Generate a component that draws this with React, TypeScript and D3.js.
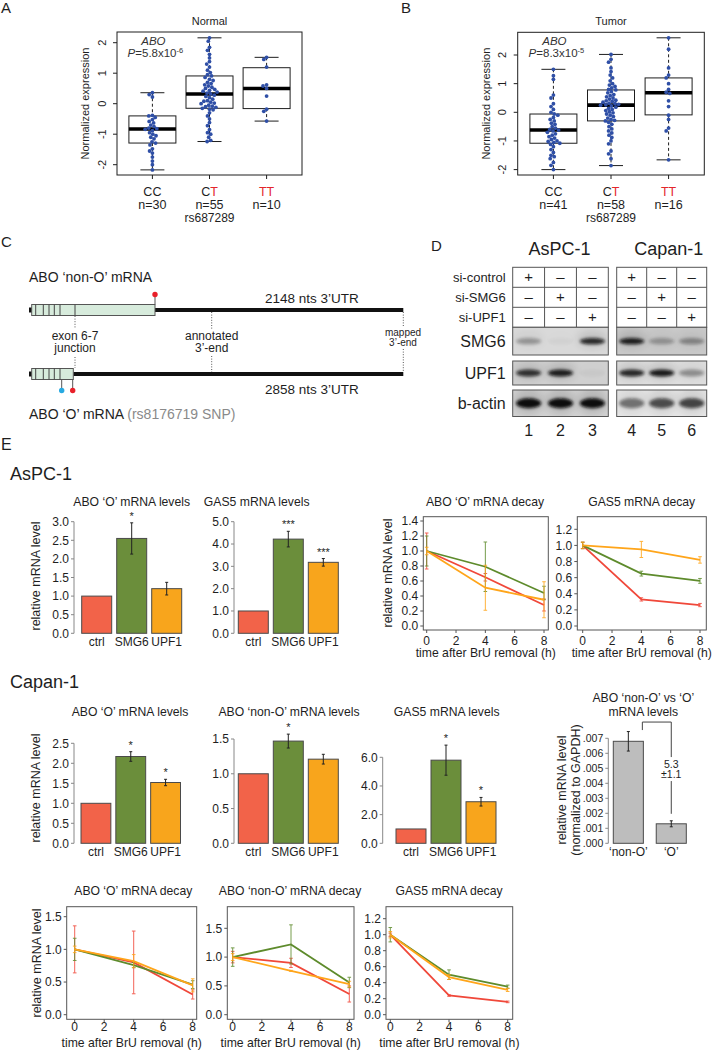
import React from 'react';
import * as d3 from 'd3';

const FONT = "'Liberation Sans', Arial, Helvetica, sans-serif";
const INK = '#1e1e1e';
const RED_T = '#e3262b';
const DOT = '#2f4fa6';

// ---------- A / B: ABO expression by rs687289 genotype ----------
const genotypes = ['CC', 'CT', 'TT'];
const exprTicks = [-2, -1, 0, 1, 2];

const normalCC = [0.36, 0.3, 0.22, -0.38, -0.4, -0.45, -0.52, -0.58, -0.63, -0.7, -0.75, -0.8, -0.82, -0.84, -0.88, -0.95, -1.0, -1.05, -1.1, -1.15, -1.25, -1.29, -1.35, -1.48, -1.55, -1.62, -1.75, -1.88, -2.0, -2.17];
const normalCT = [2.16, 2.05, 1.85, 1.75, 1.62, 1.5, 1.38, 1.3, 1.2, 1.1, 1.02, 0.95, 0.91, 0.86, 0.8, 0.76, 0.7, 0.66, 0.62, 0.58, 0.54, 0.5, 0.47, 0.44, 0.41, 0.38, 0.35, 0.32, 0.28, 0.24, 0.2, 0.15, 0.1, 0.08, 0.05, 0.02, 0.0, -0.05, -0.08, -0.1, -0.12, -0.15, -0.18, -0.2, -0.3, -0.4, -0.5, -0.62, -0.72, -0.85, -0.95, -1.0, -1.1, -1.2, -1.24];
const normalTT = [1.52, 1.45, 1.2, 0.62, 0.58, 0.5, 0.25, -0.18, -0.25, -0.57];
const normalN = [30, 55, 10];
const normalMed = [-0.83, 0.32, 0.5];
const normalQ1 = [-1.29, -0.15, -0.16];
const normalQ3 = [-0.4, 0.91, 1.18];
const normalLo = [-2.17, -1.24, -0.57];
const normalHi = [0.36, 2.16, 1.52];

const tumorCC = [1.5, 1.28, 1.15, 0.6, 0.5, 0.3, 0.2, 0.1, 0.0, -0.06, -0.1, -0.18, -0.25, -0.3, -0.38, -0.42, -0.5, -0.55, -0.6, -0.62, -0.65, -0.7, -0.75, -0.8, -0.85, -0.9, -0.95, -1.0, -1.02, -1.05, -1.08, -1.12, -1.2, -1.3, -1.4, -1.5, -1.55, -1.62, -1.75, -1.85, -2.0];
const tumorCT = [2.02, 1.85, 1.75, 1.55, 1.42, 1.3, 1.2, 1.1, 1.0, 0.95, 0.9, 0.85, 0.8, 0.78, 0.72, 0.68, 0.62, 0.58, 0.54, 0.5, 0.46, 0.42, 0.4, 0.38, 0.35, 0.32, 0.3, 0.28, 0.26, 0.25, 0.22, 0.18, 0.14, 0.1, 0.06, 0.02, -0.02, -0.06, -0.1, -0.15, -0.2, -0.25, -0.28, -0.3, -0.35, -0.42, -0.5, -0.58, -0.65, -0.72, -0.8, -0.88, -1.0, -1.1, -1.35, -1.45, -1.62, -1.86];
const tumorTT = [2.6, 2.2, 1.55, 1.3, 1.2, 1.0, 0.8, 0.7, 0.66, 0.4, 0.2, -0.1, -0.25, -0.55, -0.65, -1.66];
const tumorN = [41, 58, 16];
const tumorMed = [-0.62, 0.25, 0.68];
const tumorQ1 = [-1.08, -0.3, -0.09];
const tumorQ3 = [-0.06, 0.78, 1.2];
const tumorLo = [-2.0, -1.86, -1.66];
const tumorHi = [1.5, 2.02, 2.6];

// ---------- D: western blot ----------
const siLabels = ['si-control', 'si-SMG6', 'si-UPF1'];
const siControl = ['+', '–', '–', '+', '–', '–'];
const siSMG6 = ['–', '+', '–', '–', '+', '–'];
const siUPF1 = ['–', '–', '+', '–', '–', '+'];
const laneNums = ['1', '2', '3', '4', '5', '6'];
const smg6Band = [0.3, 0.03, 0.85, 0.9, 0.28, 0.35];
const upf1Band = [0.8, 0.9, 0.03, 0.85, 0.92, 0.35];
const actinBand = [1, 1, 1, 0.5, 0.68, 0.72];

// ---------- E: qPCR bars ----------
const siCats = ['ctrl', 'SMG6', 'UPF1'];
const aspcOMean = [1, 2.55, 1.2];
const aspcOErr = [0, 0.42, 0.17];
const aspcOStars = ['', '*', ''];
const aspcGasMean = [1, 4.22, 3.18];
const aspcGasErr = [0, 0.35, 0.17];
const aspcGasStars = ['', '***', '***'];
const capOMean = [1, 2.17, 1.52];
const capOErr = [0, 0.12, 0.08];
const capOStars = ['', '*', '*'];
const capNonOMean = [1, 1.47, 1.21];
const capNonOErr = [0, 0.1, 0.07];
const capNonOStars = ['', '*', ''];
const capGasMean = [1, 5.8, 2.9];
const capGasErr = [0, 1.05, 0.3];
const capGasStars = ['', '*', '*'];
const alleleCats = ['‘non-O’', '‘O’'];
const alleleMean = [0.0068, 0.0013];
const alleleErr = [0.00065, 0.0002];

// ---------- E: BrU decay ----------
const hours = [0, 4, 8];
const aspcODecay = { ctrl: [1, 0.65, 0.28], smg6: [1, 0.79, 0.44], upf1: [1, 0.51, 0.35] };
const aspcODecayErr = { ctrl: [0.24, 0.05, 0.08], smg6: [0.2, 0.33, 0.09], upf1: [0.05, 0.3, 0.24] };
const aspcGasDecay = { ctrl: [1, 0.33, 0.26], smg6: [1, 0.65, 0.56], upf1: [1, 0.95, 0.82] };
const aspcGasDecayErr = { ctrl: [0.04, 0.02, 0.02], smg6: [0.04, 0.03, 0.03], upf1: [0.04, 0.1, 0.04] };
const capODecay = { ctrl: [1, 0.8, 0.31], smg6: [1, 0.76, 0.46], upf1: [1, 0.82, 0.45] };
const capODecayErr = { ctrl: [0.36, 0.48, 0.07], smg6: [0.17, 0.04, 0.06], upf1: [0.05, 0.1, 0.1] };
const capNonODecay = { ctrl: [1, 0.9, 0.36], smg6: [1, 1.22, 0.56], upf1: [1, 0.76, 0.53] };
const capNonODecayErr = { ctrl: [0.1, 0.08, 0.14], smg6: [0.16, 0.34, 0.09], upf1: [0.06, 0.01, 0.05] };
const capGasDecay = { ctrl: [1, 0.24, 0.16], smg6: [1, 0.5, 0.35], upf1: [1, 0.47, 0.31] };
const capGasDecayErr = { ctrl: [0.02, 0.01, 0.01], smg6: [0.09, 0.06, 0.02], upf1: [0.04, 0.03, 0.02] };

const BAR_COLORS = ['#f26349', '#6b8e3b', '#f8a51c'];
const LINE_COLORS = { ctrl: '#f0483a', smg6: '#5e8b2c', upf1: '#ffa51a' };

const f1 = d3.format('.1f');
const f3 = (d: number) => d3.format('.3f')(d).replace(/^0/, '');

function swarm(values: number[], y: (v: number) => number, dist: number) {
  const pts = values.map(v => ({ py: y(v), dx: 0 })).sort((a, b) => a.py - b.py);
  const placed: { py: number; dx: number }[] = [];
  for (const p of pts) {
    for (let k = 0; k < 400; k++) {
      const off = (k % 2 === 0 ? 1 : -1) * Math.ceil(k / 2) * 0.4;
      if (placed.every(q => (q.dx - off) ** 2 + (q.py - p.py) ** 2 >= dist * dist)) { p.dx = off; break; }
    }
    placed.push(p);
  }
  return pts;
}

function BoxPanel(p: any) {
  const { left, right, top, bottom, yZero, yTwo, groups, n, med, q1, q3, lo, hi, title, pMain, pExp } = p;
  const x = d3.scaleLinear().domain([0.38, 3.62]).range([left, right]);
  const y = d3.scaleLinear().domain([0, 2]).range([yZero, yTwo]);
  const hw = 23.5, cw = 12;
  const cx0 = x(1);
  return (
    <g>
      <text x={(left + right) / 2} y={25} textAnchor="middle" fontSize={11}>{title}</text>
      {exprTicks.map(t => (
        <g key={t}>
          <line x1={left - 4} x2={left} y1={y(t)} y2={y(t)} stroke={INK} />
          <text transform={`translate(${left - 11.5},${y(t)}) rotate(-90)`} textAnchor="middle" fontSize={11}>{t}</text>
        </g>
      ))}
      <text transform={`translate(${left - 28},${(top + bottom) / 2}) rotate(-90)`} textAnchor="middle" fontSize={11}>Normalized expression</text>
      {genotypes.map((g, i) => {
        const cx = x(i + 1);
        return (
          <g key={g}>
            <line x1={cx} x2={cx} y1={y(hi[i])} y2={y(q3[i])} stroke={INK} strokeDasharray="3,2.5" />
            <line x1={cx} x2={cx} y1={y(q1[i])} y2={y(lo[i])} stroke={INK} strokeDasharray="3,2.5" />
            <line x1={cx - cw} x2={cx + cw} y1={y(hi[i])} y2={y(hi[i])} stroke={INK} />
            <line x1={cx - cw} x2={cx + cw} y1={y(lo[i])} y2={y(lo[i])} stroke={INK} />
            <rect x={cx - hw} y={y(q3[i])} width={2 * hw} height={y(q1[i]) - y(q3[i])} fill="#fff" stroke={INK} />
            <line x1={cx - hw} x2={cx + hw} y1={y(med[i])} y2={y(med[i])} stroke="#000" strokeWidth={3.6} />
            <line x1={cx} x2={cx} y1={bottom} y2={bottom + 4} stroke={INK} />
            {swarm(groups[i], y, 3.5).map((d, j) => (
              <circle key={j} cx={cx + d.dx} cy={d.py} r={1.9} fill={DOT} />
            ))}
            <text x={cx} y={196} textAnchor="middle" fontSize={12.5}>
              {g.split('').map((ch, j) => (
                <tspan key={j} fill={i > 0 && ch === 'T' ? RED_T : INK}>{ch}</tspan>
              ))}
            </text>
            <text x={cx} y={209} textAnchor="middle" fontSize={12.5}>n={n[i]}</text>
          </g>
        );
      })}
      <rect x={left} y={top} width={right - left} height={bottom - top} fill="none" stroke={INK} />
      <text x={x(2)} y={222} textAnchor="middle" fontSize={12}>rs687289</text>
      <text x={cx0 + 1} y={45} textAnchor="middle" fontSize={11.5} fontStyle="italic" fill="#333">ABO</text>
      <text x={cx0 + 3} y={57} textAnchor="middle" fontSize={11.5} fill="#333">
        <tspan fontStyle="italic">P</tspan>={pMain}<tspan dy={-4.5} fontSize={7.5}>{pExp}</tspan>
      </text>
    </g>
  );
}

function Transcript() {
  const exonLines = [35.7, 43.3, 49, 54.3, 60];
  const green = '#d7ebdc';
  const dot = { stroke: '#555', strokeDasharray: '1,1.6', strokeWidth: 1 };
  return (
    <g>
      <text x={29} y={282} fontSize={14}>ABO ‘non-O’ mRNA</text>
      {/* non-O */}
      <line x1={29} x2={32} y1={310} y2={310} stroke="#111" strokeWidth={5} />
      <line x1={155} x2={403.3} y1={310} y2={310} stroke="#111" strokeWidth={4} />
      <rect x={31.7} y={304.5} width={123.3} height={11} fill={green} stroke="#555" />
      {[...exonLines, 75].map(v => <line key={v} x1={v} x2={v} y1={304.5} y2={315.5} stroke="#444" />)}
      <line x1={155} x2={155} y1={304.5} y2={296} stroke="#555" />
      <circle cx={155} cy={294.5} r={2.7} fill="#e8202a" />
      <text x={265} y={303} fontSize={13.5}>2148 nts 3’UTR</text>
      {/* O */}
      <line x1={29} x2={32} y1={374} y2={374} stroke="#111" strokeWidth={5} />
      <line x1={73.3} x2={403.3} y1={374} y2={374} stroke="#111" strokeWidth={4} />
      <rect x={31.7} y={368.5} width={41.6} height={11} fill={green} stroke="#555" />
      {exonLines.map(v => <line key={v} x1={v} x2={v} y1={368.5} y2={379.5} stroke="#444" />)}
      <line x1={61.7} x2={61.7} y1={379.5} y2={388} stroke="#555" />
      <circle cx={61.7} cy={390.5} r={2.7} fill="#27a9e1" />
      <line x1={72.7} x2={72.7} y1={379.5} y2={388} stroke="#555" />
      <circle cx={72.7} cy={390.5} r={2.7} fill="#e8202a" />
      <text x={265} y={394} fontSize={13.5}>2858 nts 3’UTR</text>
      {/* guides */}
      <line x1={75} x2={75} y1={316} y2={329} {...dot} />
      <line x1={75} x2={75} y1={357} y2={368} {...dot} />
      <text x={75} y={340} textAnchor="middle" fontSize={12}>exon 6-7</text>
      <text x={75} y={352} textAnchor="middle" fontSize={12}>junction</text>
      <line x1={211.7} x2={211.7} y1={312} y2={330} {...dot} />
      <line x1={211.7} x2={211.7} y1={356} y2={372} {...dot} />
      <text x={211.7} y={340} textAnchor="middle" fontSize={12}>annotated</text>
      <text x={211.7} y={352} textAnchor="middle" fontSize={12}>3’-end</text>
      <line x1={403.3} x2={403.3} y1={312} y2={326} {...dot} />
      <line x1={403.3} x2={403.3} y1={349} y2={372} {...dot} />
      <text x={403} y={336} textAnchor="middle" fontSize={10}>mapped</text>
      <text x={403} y={346} textAnchor="middle" fontSize={10}>3’-end</text>
      <text x={29} y={419} fontSize={14}>ABO ‘O’ mRNA <tspan fill="#8a8a8a">(rs8176719 SNP)</tspan></text>
    </g>
  );
}

function Blot() {
  const blocks = [
    { idx: [0, 1, 2], x0: 512.7, x1: 608.3, name: 'AsPC-1' },
    { idx: [3, 4, 5], x0: 616.7, x1: 706.7, name: 'Capan-1' },
  ];
  const rows = [
    { name: 'SMG6', y0: 327.3, y1: 355, band: smg6Band, bg: ['#d9d9d9', '#c9c9c9'], ry: 3.2 },
    { name: 'UPF1', y0: 361, y1: 385, band: upf1Band, bg: ['#d0d0d0', '#dedede'], ry: 3.4 },
    { name: 'b-actin', y0: 390, y1: 416.5, band: actinBand, bg: ['#d2d2d2', '#e6e6e6'], ry: 5 },
  ];
  const signs = [siControl, siSMG6, siUPF1];
  const tTop = 267.3, rowH = 20;
  return (
    <g>
      <defs>
        <filter id="bandBlur" x="-50%" y="-200%" width="200%" height="500%">
          <feGaussianBlur stdDeviation="1.7" />
        </filter>
        <filter id="smearBlur" x="-50%" y="-200%" width="200%" height="500%">
          <feGaussianBlur stdDeviation="4" />
        </filter>
        {blocks.map((b, bi) => rows.map((r, ri) => (
          <clipPath key={`${bi}-${ri}`} id={`clip-${bi}-${ri}`}>
            <rect x={b.x0} y={r.y0} width={b.x1 - b.x0} height={r.y1 - r.y0} />
          </clipPath>
        )))}
      </defs>
      {blocks.map((b, bi) => {
        const x = d3.scaleBand<number>().domain(b.idx).range([b.x0, b.x1]);
        return (
          <g key={b.name}>
            <text x={(b.x0 + b.x1) / 2 + (bi === 0 ? -1 : 7)} y={255} textAnchor="middle" fontSize={18}>{b.name}</text>
            <rect x={b.x0} y={tTop} width={b.x1 - b.x0} height={rowH * 3} fill="#fff" stroke="#555" />
            {[1, 2].map(k => <line key={k} x1={b.x0} x2={b.x1} y1={tTop + k * rowH} y2={tTop + k * rowH} stroke="#555" />)}
            {b.idx.slice(1).map(i => <line key={i} x1={x(i)} x2={x(i)} y1={tTop} y2={tTop + 3 * rowH} stroke="#555" />)}
            {signs.map((s, si) => b.idx.map(i => (
              <text key={`${si}-${i}`} x={(x(i) as number) + x.bandwidth() / 2} y={tTop + si * rowH + 15} textAnchor="middle" fontSize={15}>{s[i]}</text>
            )))}
            {rows.map((r, ri) => (
              <g key={r.name}>
                <rect x={b.x0} y={r.y0} width={b.x1 - b.x0} height={r.y1 - r.y0} fill={r.bg[bi]} />
                <g clipPath={`url(#clip-${bi}-${ri})`}>
                  {b.idx.map(i => {
                    const cx = (x(i) as number) + x.bandwidth() / 2;
                    const cy = (r.y0 + r.y1) / 2;
                    return (
                      <g key={i}>
                        <ellipse cx={cx} cy={cy - 2} rx={15} ry={r.ry * 2.6} fill="#000" opacity={r.band[i] * 0.13} filter="url(#smearBlur)" />
                        <ellipse cx={cx} cy={cy} rx={12.5} ry={r.ry} fill="#0a0a0a" opacity={r.band[i]} filter="url(#bandBlur)" />
                      </g>
                    );
                  })}
                </g>
                <rect x={b.x0} y={r.y0} width={b.x1 - b.x0} height={r.y1 - r.y0} fill="none" stroke="#555" />
              </g>
            ))}
            {b.idx.map(i => (
              <text key={i} x={(x(i) as number) + x.bandwidth() / 2} y={436} textAnchor="middle" fontSize={16}>{laneNums[i]}</text>
            ))}
          </g>
        );
      })}
      {siLabels.map((s, si) => (
        <text key={s} x={505.7} y={tTop + si * rowH + 14.5} textAnchor="end" fontSize={13}>{s}</text>
      ))}
      {rows.map(r => (
        <text key={r.name} x={505.7} y={(r.y0 + r.y1) / 2 + 5.5} textAnchor="end" fontSize={16}>{r.name}</text>
      ))}
    </g>
  );
}

function BarPanel(p: any) {
  const { axisX, x0, x1, pad, y0, yTop, topVal, ticks, fmt, cats, means, errs, stars, colors, title, titleX, titleY, labelY, ylabel, ylabelX, ylabelY } = p;
  const tickFont = p.tickFont || 12;
  const y = d3.scaleLinear().domain([0, topVal]).range([y0, yTop]);
  const x = d3.scaleBand<string>().domain(cats).range([x0, x1]).paddingInner(pad);
  const titles: string[] = Array.isArray(title) ? title : [title];
  return (
    <g>
      {titles.map((t, i) => (
        <text key={i} x={titleX} y={titleY + i * 14} textAnchor="middle" fontSize={12.2}>{t}</text>
      ))}
      <line x1={axisX} x2={axisX} y1={y(0)} y2={y(topVal)} stroke="#888" />
      {ticks.map((t: number) => (
        <g key={t}>
          <line x1={axisX - 3} x2={axisX} y1={y(t)} y2={y(t)} stroke="#888" />
          <text x={axisX - 5} y={y(t) + tickFont * 0.36} textAnchor="end" fontSize={tickFont}>{fmt(t)}</text>
        </g>
      ))}
      {cats.map((c: string, i: number) => {
        const bx = x(c) as number;
        const cx = bx + x.bandwidth() / 2;
        const top = y(means[i] + errs[i]);
        return (
          <g key={c}>
            <rect x={bx} y={y(means[i])} width={x.bandwidth()} height={y(0) - y(means[i])} fill={colors[i]} stroke="#4a4a4a" />
            {errs[i] > 0 && (
              <g stroke="#222">
                <line x1={cx} x2={cx} y1={top} y2={y(means[i] - errs[i])} />
                <line x1={cx - 1.5} x2={cx + 1.5} y1={top} y2={top} />
                <line x1={cx - 1.5} x2={cx + 1.5} y1={y(means[i] - errs[i])} y2={y(means[i] - errs[i])} />
              </g>
            )}
            {stars && stars[i] && <text x={cx} y={top - 3} textAnchor="middle" fontSize={11}>{stars[i]}</text>}
            <text x={cx} y={labelY} textAnchor="middle" fontSize={12}>{c}</text>
          </g>
        );
      })}
      {ylabel && (Array.isArray(ylabel) ? ylabel : [ylabel]).map((t: string, i: number) => (
        <text key={i} transform={`translate(${ylabelX + i * 14},${ylabelY}) rotate(-90)`} textAnchor="middle" fontSize={12.5}>{t}</text>
      ))}
    </g>
  );
}

function DecayPanel(p: any) {
  const { l, r, t, b, xPx0, xPx8, yPx0, yTopVal, yPxTop, ticks, vals, errs, title, titleX, titleY, ylabelX, ylabelY, tickY, xlabelY } = p;
  const x = d3.scaleLinear().domain([0, 8]).range([xPx0, xPx8]);
  const y = d3.scaleLinear().domain([0, yTopVal]).range([yPx0, yPxTop]);
  const line = d3.line<number>().x((_, i) => x(hours[i])).y(v => y(v));
  const keys: ('ctrl' | 'smg6' | 'upf1')[] = ['ctrl', 'smg6', 'upf1'];
  return (
    <g>
      <text x={titleX} y={titleY} textAnchor="middle" fontSize={12.2}>{title}</text>
      {ticks.map((v: number) => (
        <g key={v}>
          <line x1={l - 3} x2={l} y1={y(v)} y2={y(v)} stroke="#555" />
          <text x={l - 5} y={y(v) + 4.3} textAnchor="end" fontSize={12}>{f1(v)}</text>
        </g>
      ))}
      {[0, 2, 4, 6, 8].map(h => (
        <g key={h}>
          <line x1={x(h)} x2={x(h)} y1={b} y2={b + 3} stroke="#555" />
          <text x={x(h)} y={tickY} textAnchor="middle" fontSize={12}>{h}</text>
        </g>
      ))}
      {keys.map(k => (
        <g key={k}>
          <path d={line(vals[k]) as string} fill="none" stroke={LINE_COLORS[k]} strokeWidth={1.8} />
          {hours.map((h, i) => {
            const e = errs[k][i];
            return (
              <g key={h} stroke={LINE_COLORS[k]} strokeWidth={1} opacity={0.85}>
                <line x1={x(h)} x2={x(h)} y1={y(vals[k][i] + e)} y2={y(vals[k][i] - e)} />
                <line x1={x(h) - 1.8} x2={x(h) + 1.8} y1={y(vals[k][i] + e)} y2={y(vals[k][i] + e)} />
                <line x1={x(h) - 1.8} x2={x(h) + 1.8} y1={y(vals[k][i] - e)} y2={y(vals[k][i] - e)} />
              </g>
            );
          })}
        </g>
      ))}
      <rect x={l} y={t} width={r - l} height={b - t} fill="none" stroke="#555" />
      <text x={(l + r) / 2} y={xlabelY} textAnchor="middle" fontSize={12.2}>time after BrU removal (h)</text>
      {ylabelX != null && (
        <text transform={`translate(${ylabelX},${ylabelY}) rotate(-90)`} textAnchor="middle" fontSize={12.5}>relative mRNA level</text>
      )}
    </g>
  );
}

function AlleleBracket() {
  const y = d3.scaleLinear().domain([0, 0.007]).range([843.3, 738.3]);
  const x = d3.scaleBand<string>().domain(alleleCats).range([613.3, 686.3]).paddingInner(0.3);
  const xl = (x(alleleCats[0]) as number) + x.bandwidth() - 1;
  const xr = (x(alleleCats[1]) as number) + x.bandwidth() / 2;
  const yt = y(alleleMean[0] + alleleErr[0]) - 9.5;
  const yb = y(alleleMean[1] + alleleErr[1]) - 7;
  return (
    <g>
      <path d={`M${xl},${yt + 8}V${yt}H${xr}V${yt + 35}M${xr},${yt + 59}V${yb}`} fill="none" stroke="#444" />
      <text x={xr} y={yt + 46} textAnchor="middle" fontSize={10.5}>5.3</text>
      <text x={xr} y={yt + 56} textAnchor="middle" fontSize={10.5}>±1.1</text>
    </g>
  );
}

export default function App() {
  const tk = (a: number, b: number, s: number) => d3.range(a, b + s / 2, s).map(v => +v.toFixed(4));
  return (
    <div style={{ position: 'absolute', left: 0, top: 0 }}>
      <svg width={713} height={1050} style={{ display: 'block', background: '#fff' }}>
        <g fontFamily={FONT} fill={INK}>
          <text x={1} y={13} fontSize={15}>A</text>
          <text x={401} y={13} fontSize={15}>B</text>
          <text x={1} y={247} fontSize={15}>C</text>
          <text x={431} y={251} fontSize={15}>D</text>
          <text x={1} y={450} fontSize={16}>E</text>

          <BoxPanel left={117} right={302} top={32} bottom={175} yZero={103.7} yTwo={42.7}
            groups={[normalCC, normalCT, normalTT]} n={normalN} med={normalMed} q1={normalQ1} q3={normalQ3}
            lo={normalLo} hi={normalHi} title="Normal" pMain="5.8x10" pExp="-6" />
          <BoxPanel left={517.7} right={704.3} top={32.3} bottom={175} yZero={112.3} yTwo={55}
            groups={[tumorCC, tumorCT, tumorTT]} n={tumorN} med={tumorMed} q1={tumorQ1} q3={tumorQ3}
            lo={tumorLo} hi={tumorHi} title="Tumor" pMain="8.3x10" pExp="-5" />

          <Transcript />
          <Blot />

          <text x={10} y={480} fontSize={18}>AsPC-1</text>
          <text x={10} y={688} fontSize={18}>Capan-1</text>

          <BarPanel axisX={74} x0={81.7} x1={181.7} pad={0.143} y0={633.3} yTop={521.7} topVal={3}
            ticks={tk(0, 3, 0.5)} fmt={f1} cats={siCats} means={aspcOMean} errs={aspcOErr} stars={aspcOStars}
            colors={BAR_COLORS} title="ABO ‘O’ mRNA levels" titleX={131.7} titleY={506} labelY={646}
            ylabel="relative mRNA level" ylabelX={40} ylabelY={576} />
          <BarPanel axisX={234} x0={238.3} x1={338.3} pad={0.143} y0={633.3} yTop={521.7} topVal={5}
            ticks={tk(0, 5, 1)} fmt={f1} cats={siCats} means={aspcGasMean} errs={aspcGasErr} stars={aspcGasStars}
            colors={BAR_COLORS} title="GAS5 mRNA levels" titleX={256.7} titleY={506} labelY={646} />

          <DecayPanel l={423.3} r={548.3} t={516.7} b={630} xPx0={426.7} xPx8={544} yPx0={626} yTopVal={1.4} yPxTop={521}
            ticks={tk(0, 1.4, 0.2)} vals={aspcODecay} errs={aspcODecayErr} title="ABO ‘O’ mRNA decay" titleX={485} titleY={506}
            ylabelX={392} ylabelY={573} tickY={645} xlabelY={657} />
          <DecayPanel l={577.3} r={706.3} t={516.7} b={630} xPx0={582.7} xPx8={700} yPx0={626} yTopVal={1.2} yPxTop={529.3}
            ticks={tk(0, 1.2, 0.2)} vals={aspcGasDecay} errs={aspcGasDecayErr} title="GAS5 mRNA decay" titleX={641.7} titleY={506}
            tickY={645} xlabelY={657} />

          <BarPanel axisX={74} x0={81} x1={180.5} pad={0.143} y0={843.3} yTop={743.3} topVal={2.5}
            ticks={tk(0, 2.5, 0.5)} fmt={f1} cats={siCats} means={capOMean} errs={capOErr} stars={capOStars}
            colors={BAR_COLORS} title="ABO ‘O’ mRNA levels" titleX={130} titleY={716} labelY={856}
            ylabel="relative mRNA level" ylabelX={40} ylabelY={788} />
          <BarPanel axisX={234} x0={238.3} x1={338.3} pad={0.143} y0={843.3} yTop={739} topVal={1.5}
            ticks={tk(0, 1.5, 0.5)} fmt={f1} cats={siCats} means={capNonOMean} errs={capNonOErr} stars={capNonOStars}
            colors={BAR_COLORS} title="ABO ‘non-O’ mRNA levels" titleX={289} titleY={716} labelY={856} />
          <BarPanel axisX={382.7} x0={396} x1={496} pad={0.143} y0={843.3} yTop={757.3} topVal={6}
            ticks={tk(0, 6, 2)} fmt={f1} cats={siCats} means={capGasMean} errs={capGasErr} stars={capGasStars}
            colors={BAR_COLORS} title="GAS5 mRNA levels" titleX={446.7} titleY={716} labelY={856} />
          <BarPanel axisX={608.3} x0={613.3} x1={686.3} pad={0.3} y0={843.3} yTop={738.3} topVal={0.007}
            ticks={tk(0, 0.007, 0.001)} fmt={f3} tickFont={10.5} cats={alleleCats} means={alleleMean} errs={alleleErr}
            colors={['#bdbdbd', '#bdbdbd']} title={['ABO ‘non-O’ vs ‘O’', 'mRNA levels']} titleX={643.3} titleY={702} labelY={856}
            ylabel={['relative mRNA level', '(normalized to GAPDH)']} ylabelX={565.5} ylabelY={790} />
          <AlleleBracket />

          <DecayPanel l={66.7} r={196.7} t={906.7} b={1019.3} xPx0={74.7} xPx8={192.7} yPx0={1014.7} yTopVal={1.5} yPxTop={916.7}
            ticks={tk(0, 1.5, 0.5)} vals={capODecay} errs={capODecayErr} title="ABO ‘O’ mRNA decay" titleX={133.3} titleY={895}
            ylabelX={41.3} ylabelY={963} tickY={1031} xlabelY={1047} />
          <DecayPanel l={227.3} r={354} t={906.7} b={1019.3} xPx0={232.7} xPx8={349.3} yPx0={1014.7} yTopVal={1.5} yPxTop={928.3}
            ticks={tk(0, 1.5, 0.5)} vals={capNonODecay} errs={capNonODecayErr} title="ABO ‘non-O’ mRNA decay" titleX={290} titleY={895}
            tickY={1031} xlabelY={1047} />
          <DecayPanel l={386} r={512.7} t={906.7} b={1019.3} xPx0={390.3} xPx8={507.7} yPx0={1014.7} yTopVal={1.2} yPxTop={918.7}
            ticks={tk(0, 1.2, 0.2)} vals={capGasDecay} errs={capGasDecayErr} title="GAS5 mRNA decay" titleX={449} titleY={895}
            tickY={1031} xlabelY={1047} />
        </g>
      </svg>
    </div>
  );
}
